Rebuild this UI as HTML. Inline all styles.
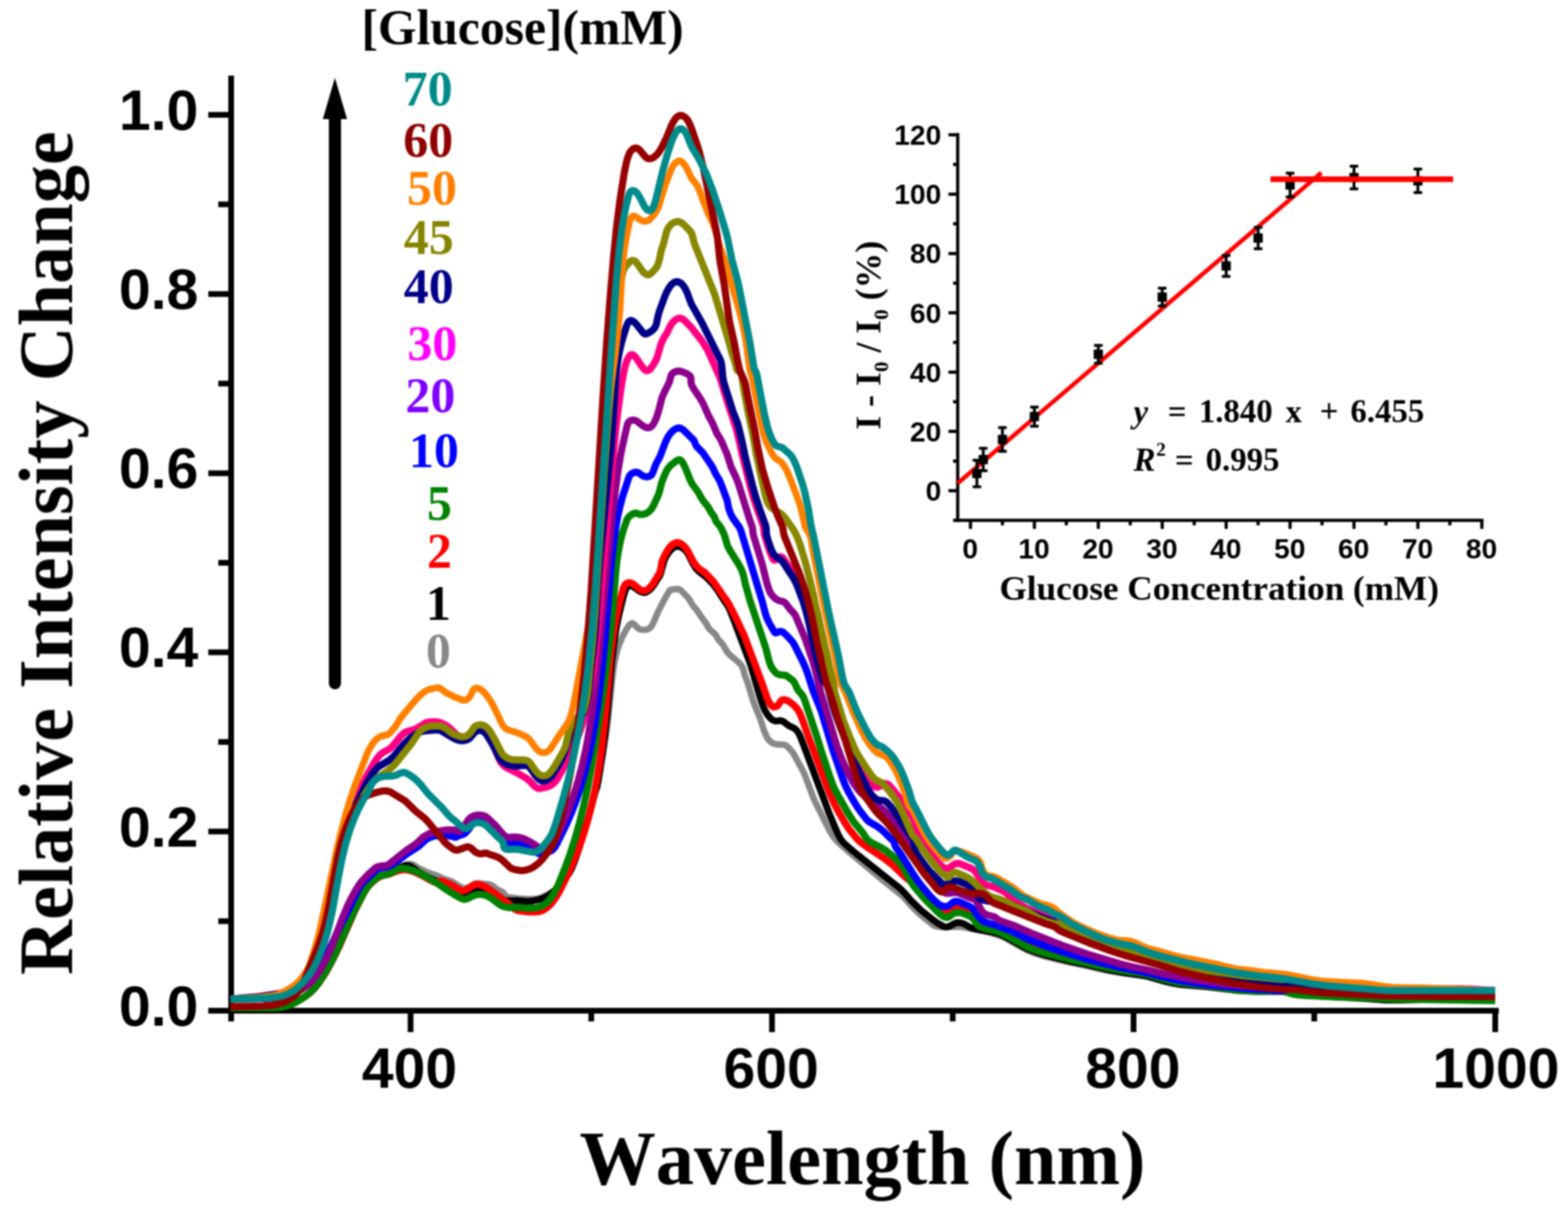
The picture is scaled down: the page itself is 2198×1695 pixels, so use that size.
<!DOCTYPE html>
<html lang="en"><head><meta charset="utf-8"><title>Relative Intensity Change vs Wavelength</title>
<style>html,body{margin:0;padding:0;background:#fff}body{width:2198px;height:1695px;overflow:hidden}svg{display:block}
.sans{font-family:"Liberation Sans",Arial,Helvetica,sans-serif;font-weight:bold}.serif{font-family:"Liberation Serif","Times New Roman",Times,serif;font-weight:bold}text{font-kerning:none}</style></head><body>
<svg xmlns="http://www.w3.org/2000/svg" width="2198" height="1695" viewBox="0 0 2198 1695">
<defs><filter id="soft" x="0" y="0" width="2198" height="1695" filterUnits="userSpaceOnUse" color-interpolation-filters="sRGB"><feGaussianBlur stdDeviation="1.0"/></filter></defs>
<rect width="2198" height="1695" fill="#fff"/>
<g filter="url(#soft)">
<!-- main axes -->
<g stroke="#000" stroke-width="8" fill="none" stroke-linecap="butt">
<path d="M324 106V1432"/>
<path d="M292 1417H2101"/>
<path d="M292 161H324M292 412.2H324M292 663.4H324M292 914.6H324M292 1165.8H324"/>
<path d="M306 286.6H324M306 537.8H324M306 789H324M306 1040.2H324M306 1291.4H324"/>
<path d="M575.5 1417V1447M1082.2 1417V1447M1589 1417V1447M2096 1417V1447"/>
<path d="M828.8 1417V1432M1335.5 1417V1432M1842.3 1417V1432"/>
</g>
<g class="sans" font-size="80" text-anchor="end" fill="#000">
<text x="278" y="182">1.0</text>
<text x="278" y="433">0.8</text>
<text x="278" y="684">0.6</text>
<text x="278" y="935">0.4</text>
<text x="278" y="1187">0.2</text>
<text x="278" y="1438">0.0</text>
</g>
<g class="sans" font-size="80" text-anchor="middle" fill="#000">
<text x="574" y="1525">400</text>
<text x="1081" y="1525">600</text>
<text x="1588" y="1525">800</text>
<text x="2097" y="1525">1000</text>
</g>
<text class="serif" font-size="107" text-anchor="middle" fill="#000" transform="translate(101 775.5) rotate(-90)">Relative Intensity Change</text>
<text class="serif" font-size="107" text-anchor="middle" fill="#000" x="1209" y="1660">Wavelength (nm)</text>

<g fill="none" stroke-linejoin="round" stroke-linecap="butt">
<path stroke="#888888" stroke-width="9" d="M323.3,1413.0 L377.3,1413.1 L390.3,1412.6 L397.2,1411.7 L405.0,1409.7 L412.3,1406.5 L423.5,1400.0 L433.3,1393.0 L439.8,1386.8 L446.7,1378.2 L453.4,1368.3 L461.0,1355.3 L467.0,1343.8 L473.6,1330.3 L498.0,1275.5 L509.7,1252.3 L514.5,1244.7 L517.6,1240.9 L521.9,1236.6 L526.5,1232.8 L530.6,1229.9 L535.9,1227.2 L547.1,1222.8 L559.3,1216.1 L568.7,1212.5 L571.5,1211.7 L574.5,1211.2 L576.4,1211.4 L578.3,1211.9 L587.6,1217.6 L596.6,1221.9 L603.1,1224.5 L612.7,1227.5 L622.6,1232.2 L632.1,1235.2 L645.7,1243.5 L649.3,1245.1 L652.3,1245.4 L656.1,1244.5 L658.8,1243.2 L664.5,1239.3 L667.3,1238.3 L670.2,1238.3 L676.1,1239.0 L683.1,1239.4 L687.0,1240.1 L690.5,1241.9 L695.9,1246.3 L703.9,1250.2 L705.4,1251.5 L708.3,1255.4 L709.7,1256.7 L711.4,1257.6 L714.3,1258.3 L725.2,1259.5 L739.2,1260.5 L748.2,1260.4 L755.1,1259.6 L759.8,1258.0 L770.5,1252.7 L777.2,1248.2 L784.1,1242.5 L789.4,1236.5 L798.1,1224.4 L801.4,1218.2 L806.3,1206.1 L812.4,1188.1 L827.6,1137.3 L834.4,1111.3 L837.3,1103.2 L839.2,1093.5 L845.4,1056.0 L849.8,1027.4 L853.2,1000.6 L858.5,948.8 L860.2,936.0 L861.9,926.1 L864.1,916.4 L866.2,908.7 L868.9,901.1 L872.9,892.0 L878.6,881.4 L882.0,876.5 L883.4,875.1 L884.9,874.1 L886.6,873.8 L888.2,874.5 L894.4,880.8 L896.0,881.9 L898.8,882.8 L902.8,883.1 L906.7,882.6 L909.4,881.5 L911.8,879.7 L913.7,877.4 L915.2,874.8 L922.2,858.3 L929.9,843.1 L937.7,829.2 L938.8,827.7 L940.3,826.8 L948.9,825.8 L951.8,826.1 L954.3,827.4 L964.0,837.5 L967.0,841.5 L970.8,848.4 L976.7,855.2 L983.9,866.0 L989.3,873.2 L993.7,881.0 L996.4,883.9 L1001.0,887.7 L1003.1,889.8 L1007.0,896.7 L1011.1,901.0 L1013.5,904.2 L1020.2,915.3 L1023.7,918.8 L1035.2,928.4 L1038.0,931.3 L1039.8,933.7 L1041.5,937.2 L1044.0,946.9 L1048.1,957.1 L1055.8,983.0 L1066.2,1009.0 L1070.9,1024.2 L1074.9,1033.4 L1077.1,1036.7 L1079.1,1039.0 L1081.4,1040.8 L1083.9,1042.3 L1088.7,1043.6 L1097.7,1043.9 L1099.6,1044.3 L1101.4,1045.0 L1103.8,1046.7 L1106.7,1049.5 L1111.8,1055.6 L1123.3,1076.6 L1127.8,1085.6 L1139.8,1117.4 L1142.5,1123.8 L1162.6,1164.1 L1165.6,1169.3 L1169.6,1175.0 L1172.2,1178.1 L1175.7,1181.6 L1193.0,1196.8 L1237.5,1234.0 L1264.0,1255.3 L1269.0,1260.2 L1276.8,1269.3 L1288.8,1281.3 L1306.7,1295.8 L1310.0,1298.0 L1313.8,1299.2 L1319.7,1299.7 L1343.7,1299.3 L1347.7,1299.6 L1363.5,1302.2 L1383.0,1306.4 L1395.6,1309.8 L1404.0,1312.8 L1411.2,1316.3 L1434.8,1329.5 L1441.0,1332.7 L1451.2,1336.8 L1465.6,1341.2 L1496.7,1348.7 L1524.1,1354.3 L1551.4,1360.6 L1571.1,1364.1 L1600.8,1368.2 L1607.7,1369.4 L1632.7,1376.4 L1643.4,1378.9 L1652.3,1380.4 L1694.2,1384.0 L1729.9,1388.4 L1742.8,1389.6 L1764.8,1390.5 L1776.8,1390.5 L1791.8,1390.1 L1797.8,1390.4 L1802.7,1391.2 L1813.2,1394.5 L1824.1,1395.8 L1911.0,1400.3 L1940.9,1402.3 L1958.9,1402.5 L1994.9,1401.6 L2095.9,1399.9"/>
<path stroke="#000000" stroke-width="9.5" d="M323.5,1413.0 L377.5,1413.1 L390.5,1412.6 L397.5,1411.7 L405.2,1409.7 L412.5,1406.5 L423.8,1400.0 L433.5,1393.0 L440.0,1386.8 L446.9,1378.2 L454.1,1367.4 L461.7,1354.4 L467.7,1342.9 L473.8,1330.3 L498.0,1275.4 L509.7,1252.2 L514.5,1244.6 L517.7,1240.7 L522.0,1236.5 L526.6,1232.7 L530.7,1229.9 L536.2,1227.4 L545.6,1224.2 L557.3,1218.4 L567.2,1213.9 L569.1,1213.3 L571.0,1213.3 L573.0,1213.7 L575.7,1214.7 L579.2,1216.8 L587.1,1222.8 L600.3,1230.0 L613.9,1236.3 L622.7,1241.1 L631.8,1245.1 L646.8,1253.1 L649.6,1253.7 L652.5,1253.2 L664.1,1247.5 L667.9,1246.2 L671.8,1245.6 L675.8,1245.8 L678.7,1246.6 L681.4,1247.8 L701.7,1260.6 L704.4,1261.7 L708.3,1262.6 L714.3,1262.9 L724.3,1262.5 L740.2,1263.9 L745.1,1263.3 L755.9,1261.2 L762.5,1258.8 L769.5,1254.9 L775.9,1250.1 L782.5,1244.0 L788.4,1237.2 L797.7,1224.3 L801.0,1218.1 L805.6,1207.0 L812.0,1188.1 L827.5,1136.3 L834.0,1111.3 L836.8,1103.1 L838.7,1093.5 L844.1,1058.9 L848.0,1030.2 L851.4,998.3 L857.3,930.6 L861.3,896.8 L864.1,879.0 L867.3,863.3 L873.4,838.1 L876.3,828.5 L877.4,825.7 L879.0,823.2 L881.2,821.5 L883.0,821.1 L884.9,821.3 L887.6,822.4 L896.5,828.8 L901.1,830.7 L904.0,830.8 L905.8,830.3 L910.0,827.6 L912.9,824.9 L916.0,821.0 L925.1,806.6 L926.5,802.9 L930.9,786.5 L932.9,781.9 L935.3,777.6 L938.9,772.7 L942.3,769.1 L945.6,767.0 L949.4,765.9 L952.3,766.3 L955.9,767.8 L959.2,770.1 L961.9,772.9 L964.7,777.1 L971.0,789.6 L975.1,796.4 L979.9,801.5 L987.1,806.8 L990.2,809.4 L999.2,818.7 L1005.8,827.5 L1014.4,841.0 L1020.1,849.2 L1023.2,855.5 L1028.0,867.5 L1051.9,931.2 L1065.9,979.2 L1069.2,988.7 L1071.9,995.2 L1074.3,999.5 L1077.1,1003.7 L1079.7,1006.7 L1082.8,1009.2 L1086.3,1010.8 L1088.2,1010.9 L1094.0,1010.2 L1095.9,1010.6 L1097.7,1011.4 L1106.5,1017.9 L1112.8,1020.7 L1114.5,1021.8 L1117.3,1024.6 L1119.5,1027.9 L1121.7,1032.4 L1125.0,1040.8 L1162.6,1141.0 L1174.3,1168.6 L1177.0,1174.0 L1179.1,1177.4 L1181.6,1180.5 L1185.1,1184.0 L1196.5,1193.9 L1261.5,1245.4 L1267.9,1251.8 L1277.0,1262.4 L1291.3,1276.4 L1310.1,1291.4 L1314.2,1294.2 L1320.3,1297.7 L1323.9,1299.3 L1325.8,1299.7 L1327.7,1299.6 L1331.5,1298.4 L1337.5,1295.0 L1340.2,1293.8 L1343.2,1293.5 L1347.1,1293.9 L1351.8,1295.5 L1359.6,1300.0 L1364.2,1301.8 L1370.1,1303.1 L1391.7,1306.9 L1401.4,1309.7 L1410.4,1313.8 L1434.9,1327.5 L1441.1,1330.7 L1451.3,1334.7 L1464.7,1338.9 L1501.6,1348.1 L1524.1,1352.6 L1553.3,1359.6 L1570.0,1362.7 L1600.7,1367.1 L1607.6,1368.3 L1634.5,1376.1 L1644.3,1378.4 L1653.1,1379.9 L1692.0,1383.2 L1728.7,1387.9 L1740.7,1389.0 L1763.6,1390.0 L1796.6,1389.9 L1802.6,1390.7 L1813.2,1393.6 L1823.1,1394.8 L1910.0,1399.4 L1942.9,1401.9 L1961.9,1402.1 L1994.9,1401.2 L2095.9,1399.5"/>
<path stroke="#ff0000" stroke-width="10" d="M323.8,1412.5 L378.8,1412.6 L390.8,1412.1 L398.7,1411.0 L406.4,1408.9 L414.5,1405.0 L425.7,1398.4 L435.3,1391.2 L441.6,1384.8 L448.3,1376.1 L455.5,1365.2 L462.9,1352.2 L474.5,1328.9 L497.0,1277.6 L511.5,1249.1 L516.8,1241.8 L523.2,1235.5 L529.5,1230.6 L532.1,1229.2 L535.8,1227.7 L545.5,1225.3 L553.9,1222.1 L559.6,1220.3 L564.5,1219.3 L568.5,1219.2 L576.3,1220.9 L585.6,1224.4 L592.8,1227.9 L603.2,1234.0 L608.6,1236.6 L610.5,1237.1 L612.4,1237.1 L617.7,1235.2 L620.4,1235.4 L630.6,1239.6 L642.7,1246.5 L645.4,1247.8 L648.2,1248.7 L650.1,1248.7 L652.9,1247.9 L662.2,1242.1 L665.8,1240.4 L669.7,1239.9 L673.6,1240.5 L676.4,1241.4 L680.0,1243.1 L692.5,1251.4 L713.1,1267.3 L721.4,1274.4 L724.0,1275.9 L727.8,1276.9 L736.8,1278.1 L741.7,1278.5 L749.7,1278.5 L755.7,1278.0 L759.5,1276.8 L763.1,1275.0 L767.1,1272.2 L771.6,1268.1 L774.8,1264.3 L778.3,1259.4 L785.0,1248.3 L797.2,1223.1 L805.2,1204.8 L812.4,1186.1 L818.8,1167.1 L824.7,1147.0 L830.0,1125.6 L834.1,1107.1 L837.7,1087.4 L840.9,1067.6 L843.9,1045.8 L848.5,1004.1 L855.4,925.4 L859.4,891.6 L862.2,874.8 L865.1,860.1 L870.6,836.7 L874.0,824.2 L875.7,820.6 L877.6,818.4 L880.1,817.1 L882.0,816.9 L884.8,817.5 L887.5,818.8 L895.9,825.8 L899.4,827.7 L902.2,828.3 L904.2,828.1 L906.9,827.0 L909.3,825.3 L912.1,822.5 L915.2,818.6 L924.6,803.3 L925.9,799.6 L927.5,789.7 L928.5,785.8 L931.3,779.4 L935.7,771.6 L939.2,766.7 L942.0,763.9 L946.3,761.4 L948.1,760.8 L950.0,760.7 L952.8,761.4 L955.4,762.9 L958.5,765.4 L961.3,768.3 L964.6,773.2 L971.3,786.6 L975.2,792.4 L980.0,797.5 L985.9,801.2 L988.2,803.1 L1000.1,815.2 L1014.1,835.9 L1018.9,842.3 L1021.5,846.6 L1032.0,867.1 L1043.0,890.6 L1061.0,938.4 L1069.6,961.8 L1075.4,978.9 L1077.4,983.5 L1079.4,986.9 L1081.4,989.1 L1082.9,990.3 L1084.7,991.0 L1087.5,990.8 L1089.2,990.0 L1090.6,988.7 L1093.9,983.7 L1095.8,981.7 L1097.5,981.0 L1100.4,981.0 L1104.9,982.9 L1111.4,987.5 L1116.4,992.4 L1119.9,997.3 L1122.0,1001.8 L1126.0,1012.1 L1133.9,1034.7 L1163.5,1113.4 L1168.9,1125.2 L1174.3,1135.9 L1184.7,1154.1 L1190.2,1162.5 L1200.4,1174.9 L1205.3,1179.9 L1214.0,1186.5 L1239.0,1203.2 L1252.3,1213.7 L1268.9,1229.7 L1284.2,1240.9 L1310.3,1267.1 L1315.6,1271.7 L1319.7,1274.5 L1323.3,1276.0 L1326.2,1276.2 L1329.0,1275.4 L1337.2,1271.8 L1341.1,1271.2 L1347.9,1272.6 L1355.5,1275.1 L1359.9,1277.3 L1363.6,1280.7 L1367.0,1285.6 L1370.6,1292.7 L1373.2,1297.0 L1375.1,1299.2 L1377.5,1301.0 L1382.2,1302.5 L1397.0,1304.4 L1402.7,1306.2 L1410.9,1310.1 L1440.6,1326.5 L1449.9,1330.3 L1461.3,1334.1 L1469.9,1336.6 L1500.0,1344.1 L1524.4,1349.4 L1549.7,1355.6 L1570.3,1359.5 L1601.0,1364.0 L1607.9,1365.3 L1636.7,1373.7 L1644.5,1375.6 L1651.3,1377.0 L1691.1,1381.0 L1726.8,1386.1 L1738.7,1387.5 L1750.7,1388.3 L1761.7,1388.8 L1796.7,1388.6 L1801.6,1389.3 L1811.1,1392.3 L1818.0,1393.6 L1828.0,1394.4 L1861.9,1396.3 L1882.9,1397.1 L1913.9,1397.9 L1945.9,1399.5 L1972.9,1400.1 L2034.9,1400.4 L2095.9,1399.5"/>
<path stroke="#008200" stroke-width="10" d="M323.0,1413.0 L377.0,1413.1 L390.0,1412.6 L396.9,1411.7 L404.7,1409.7 L412.0,1406.5 L423.2,1400.0 L433.0,1393.0 L439.5,1386.8 L446.4,1378.2 L453.6,1367.5 L460.7,1355.4 L466.7,1343.8 L472.8,1331.2 L490.8,1290.0 L497.5,1275.5 L508.6,1254.2 L514.6,1243.8 L517.1,1240.7 L521.4,1236.5 L526.6,1231.9 L529.9,1229.7 L535.4,1227.3 L544.2,1225.3 L547.9,1223.9 L558.4,1218.2 L561.3,1217.5 L564.2,1217.4 L571.2,1218.1 L578.9,1220.2 L587.2,1223.7 L596.0,1228.3 L611.5,1237.5 L625.5,1247.1 L638.2,1255.1 L646.1,1259.4 L649.8,1260.7 L651.7,1260.8 L654.6,1260.2 L661.7,1256.6 L667.3,1254.5 L671.2,1253.9 L676.2,1254.1 L681.0,1255.3 L685.5,1257.4 L688.9,1259.5 L700.9,1268.5 L704.4,1270.4 L707.2,1271.4 L713.1,1272.4 L726.1,1272.1 L741.0,1273.4 L752.0,1272.7 L757.7,1271.1 L761.3,1269.3 L764.6,1267.1 L767.6,1264.4 L770.2,1261.5 L773.2,1257.5 L776.5,1252.4 L782.3,1240.8 L792.5,1215.8 L799.6,1196.1 L806.3,1175.1 L812.5,1153.0 L818.2,1129.7 L823.4,1105.2 L828.6,1077.7 L834.1,1045.1 L841.1,1000.7 L847.1,959.1 L852.3,919.5 L856.4,882.7 L859.3,851.8 L862.9,805.0 L864.6,788.1 L866.3,776.2 L868.2,765.4 L870.6,754.6 L873.2,745.0 L878.7,728.9 L880.7,725.5 L883.5,722.7 L887.7,720.1 L890.5,719.3 L892.3,719.5 L896.0,720.9 L897.9,721.3 L900.8,721.2 L903.7,720.6 L906.5,719.5 L909.0,717.9 L913.2,713.6 L915.7,709.4 L922.5,694.9 L924.4,689.2 L927.5,676.6 L931.9,665.4 L934.4,660.0 L937.1,655.8 L940.4,652.1 L948.3,646.0 L950.1,645.1 L951.8,644.6 L952.7,644.6 L954.3,645.3 L956.9,648.2 L961.2,657.2 L967.1,672.1 L970.2,678.4 L978.4,689.6 L984.8,700.9 L992.9,711.1 L996.7,718.1 L1001.3,724.5 L1003.7,730.9 L1008.7,737.1 L1011.4,741.3 L1015.2,749.4 L1019.4,763.8 L1020.9,767.5 L1024.4,773.6 L1035.1,790.5 L1039.3,798.4 L1041.7,805.0 L1045.0,819.6 L1051.5,842.7 L1073.3,908.2 L1078.6,928.5 L1080.8,934.1 L1082.8,937.5 L1085.2,940.7 L1087.2,942.9 L1089.6,944.7 L1093.2,946.1 L1100.1,946.7 L1102.0,947.2 L1104.4,948.8 L1111.5,954.2 L1113.9,957.4 L1117.2,964.7 L1118.6,967.2 L1124.4,974.2 L1126.4,977.6 L1128.2,982.2 L1145.6,1034.4 L1151.8,1054.5 L1162.5,1086.7 L1166.9,1099.0 L1169.6,1105.4 L1173.7,1113.4 L1189.1,1140.4 L1196.6,1152.1 L1209.4,1167.5 L1214.9,1175.8 L1216.9,1178.0 L1221.8,1181.5 L1236.0,1188.8 L1241.1,1191.9 L1253.6,1202.0 L1260.0,1208.2 L1263.9,1212.8 L1267.8,1218.6 L1277.1,1236.3 L1279.7,1240.6 L1282.1,1243.8 L1295.7,1259.7 L1314.1,1278.1 L1320.9,1284.0 L1324.4,1285.8 L1326.3,1286.2 L1328.2,1286.2 L1330.7,1285.0 L1335.6,1281.5 L1339.2,1279.8 L1343.1,1279.2 L1348.0,1279.9 L1359.1,1284.2 L1362.5,1286.3 L1365.9,1289.9 L1370.1,1296.6 L1373.1,1299.0 L1377.8,1300.9 L1394.3,1304.8 L1401.8,1307.4 L1412.6,1312.6 L1438.9,1327.1 L1446.2,1330.4 L1454.7,1333.4 L1467.2,1337.0 L1499.2,1345.0 L1524.6,1350.3 L1550.9,1356.6 L1569.5,1360.2 L1600.2,1364.5 L1608.1,1365.9 L1636.9,1374.4 L1650.5,1377.4 L1690.3,1381.4 L1727.9,1387.1 L1741.8,1388.6 L1762.8,1389.6 L1775.8,1389.7 L1791.8,1389.3 L1797.8,1389.5 L1802.7,1390.4 L1810.3,1392.9 L1814.2,1393.8 L1821.1,1394.7 L1830.1,1395.4 L1873.0,1397.6 L1913.0,1398.7 L1949.9,1400.5 L2095.9,1402.9"/>
<path stroke="#0000ff" stroke-width="10" d="M323.0,1401.0 L347.0,1400.6 L372.0,1399.7 L384.9,1398.5 L396.8,1396.6 L406.5,1394.2 L413.9,1391.2 L422.5,1386.2 L431.3,1379.6 L436.6,1375.0 L440.6,1370.5 L444.6,1364.8 L449.2,1357.0 L454.1,1347.2 L474.5,1303.7 L491.5,1269.7 L501.4,1248.9 L504.3,1243.7 L508.5,1238.1 L522.5,1223.9 L528.0,1219.5 L532.4,1217.3 L543.2,1215.2 L546.0,1214.3 L548.6,1212.9 L557.8,1206.8 L570.5,1197.1 L585.6,1187.4 L588.7,1184.9 L595.1,1178.6 L598.4,1176.3 L601.9,1174.4 L605.6,1173.0 L609.5,1172.0 L618.5,1171.2 L627.5,1171.6 L631.4,1172.2 L637.2,1173.7 L639.9,1173.5 L644.0,1171.2 L649.6,1169.6 L652.1,1168.0 L656.8,1162.9 L661.8,1155.4 L663.9,1153.4 L665.6,1152.4 L668.4,1151.5 L673.4,1151.3 L676.3,1151.7 L679.1,1152.6 L683.4,1155.2 L687.1,1158.5 L695.6,1167.0 L704.0,1176.9 L707.0,1179.5 L709.6,1180.9 L713.5,1181.8 L723.4,1182.3 L734.1,1185.1 L741.3,1188.4 L754.1,1196.3 L756.8,1197.3 L760.7,1197.1 L769.2,1194.4 L773.6,1192.1 L777.2,1188.7 L780.3,1183.5 L794.4,1154.8 L801.6,1138.3 L808.0,1121.5 L813.4,1105.4 L819.5,1084.2 L824.6,1063.9 L829.1,1042.3 L832.8,1021.7 L836.6,997.9 L840.1,972.2 L843.3,945.4 L848.6,891.6 L857.4,787.0 L860.4,760.1 L863.1,740.3 L865.6,725.5 L869.1,709.9 L873.0,695.4 L881.7,668.8 L883.1,666.2 L885.1,664.2 L886.8,663.2 L889.6,662.3 L891.6,662.0 L893.5,662.2 L895.2,663.0 L901.7,667.5 L905.5,668.5 L908.4,668.3 L910.3,667.7 L912.0,666.8 L913.4,665.5 L915.3,662.1 L917.6,655.5 L919.9,649.9 L925.1,640.2 L932.8,619.7 L936.3,612.5 L939.7,607.6 L943.9,603.2 L948.1,600.7 L951.9,600.0 L954.7,600.6 L958.0,602.8 L972.2,616.9 L973.2,618.5 L975.4,624.0 L976.4,625.7 L985.4,635.0 L997.7,653.3 L999.7,656.7 L1002.9,664.0 L1008.6,673.4 L1012.0,681.7 L1019.3,701.4 L1021.6,713.1 L1024.3,720.7 L1027.5,726.8 L1036.3,739.0 L1038.4,743.5 L1068.7,844.0 L1072.7,859.6 L1074.9,866.2 L1078.3,873.4 L1085.6,886.3 L1087.0,887.2 L1087.7,887.3 L1092.9,885.3 L1094.8,885.3 L1096.6,885.8 L1098.2,886.8 L1100.5,888.8 L1105.5,893.7 L1109.5,898.2 L1111.9,901.3 L1113.9,904.8 L1125.5,928.1 L1129.1,936.3 L1131.9,943.8 L1139.8,968.6 L1151.3,997.4 L1167.9,1052.9 L1181.6,1092.7 L1185.3,1101.9 L1189.2,1110.0 L1198.2,1125.7 L1202.4,1132.4 L1206.5,1138.1 L1215.1,1149.1 L1218.9,1152.4 L1229.2,1158.4 L1234.9,1162.5 L1239.4,1166.5 L1247.2,1174.3 L1252.9,1179.6 L1253.7,1181.3 L1254.5,1185.1 L1255.7,1187.8 L1262.7,1197.5 L1280.7,1226.3 L1286.2,1234.6 L1291.7,1241.8 L1303.9,1256.4 L1310.2,1262.8 L1316.2,1268.0 L1318.8,1269.5 L1320.7,1270.2 L1323.6,1270.7 L1326.5,1270.7 L1329.4,1270.1 L1331.2,1269.2 L1335.5,1265.2 L1337.1,1264.2 L1339.9,1263.6 L1343.8,1264.2 L1356.7,1269.5 L1362.8,1272.9 L1365.5,1275.8 L1369.8,1282.5 L1373.4,1287.3 L1376.3,1290.1 L1380.5,1292.7 L1384.2,1294.1 L1391.0,1295.6 L1395.8,1297.0 L1414.6,1304.0 L1422.8,1307.6 L1437.1,1314.9 L1444.3,1318.2 L1470.5,1328.3 L1488.5,1334.3 L1520.1,1343.8 L1530.7,1346.6 L1565.7,1355.3 L1606.9,1363.6 L1643.7,1372.9 L1655.5,1375.2 L1687.1,1379.9 L1697.1,1381.1 L1750.8,1386.4 L1775.8,1387.8 L1791.7,1389.1 L1796.7,1389.0 L1800.7,1388.4 L1803.5,1387.4 L1810.5,1383.8 L1813.4,1383.0 L1817.4,1382.8 L1825.3,1383.5 L1844.1,1386.8 L1856.0,1387.9 L1891.9,1390.3 L1926.9,1391.7 L1955.9,1392.0 L2043.9,1390.4 L2095.9,1391.2"/>
<path stroke="#8c008c" stroke-width="10" d="M323.0,1401.0 L373.0,1399.8 L385.0,1398.8 L396.8,1397.1 L406.5,1394.8 L414.0,1391.9 L423.6,1386.5 L431.8,1380.8 L437.5,1375.2 L443.8,1367.4 L449.3,1359.1 L455.5,1347.7 L460.4,1337.8 L464.4,1328.7 L479.5,1288.4 L486.8,1270.8 L491.6,1261.0 L498.3,1248.6 L502.5,1241.8 L506.6,1236.2 L516.1,1225.9 L525.7,1217.2 L528.3,1215.7 L530.1,1215.0 L533.0,1214.3 L540.9,1213.5 L542.8,1212.9 L545.4,1211.5 L569.7,1192.2 L581.3,1184.5 L585.1,1181.3 L593.1,1173.7 L600.0,1169.7 L604.6,1167.7 L608.4,1166.6 L620.2,1164.3 L626.1,1163.6 L632.1,1163.4 L637.1,1163.7 L638.9,1164.1 L642.1,1165.9 L643.7,1166.0 L645.2,1165.2 L647.9,1162.3 L650.9,1158.3 L656.1,1149.8 L659.6,1146.3 L662.1,1144.7 L664.8,1143.6 L668.7,1142.8 L672.7,1142.7 L675.7,1143.1 L678.5,1143.8 L681.2,1145.1 L683.6,1146.9 L695.8,1158.7 L705.5,1170.2 L707.8,1172.1 L709.5,1173.0 L711.4,1173.6 L714.3,1174.0 L721.3,1173.5 L725.2,1173.7 L729.2,1174.4 L733.0,1175.4 L737.7,1177.3 L744.7,1181.1 L757.2,1189.4 L759.8,1190.7 L762.7,1191.3 L765.6,1191.2 L768.3,1190.0 L771.2,1187.4 L775.6,1182.0 L778.4,1177.8 L781.2,1172.5 L789.7,1153.3 L797.6,1133.8 L804.5,1114.0 L810.4,1094.9 L815.8,1074.6 L820.6,1053.1 L824.8,1031.5 L830.2,996.9 L835.5,953.3 L841.2,898.5 L853.8,767.1 L858.4,723.4 L862.7,686.6 L866.1,661.8 L869.4,641.1 L872.7,624.4 L878.7,598.1 L880.2,593.3 L881.8,590.9 L884.2,589.4 L887.0,588.9 L889.9,589.2 L892.6,590.4 L901.3,597.1 L905.6,599.4 L908.5,599.7 L910.4,599.4 L912.2,598.6 L914.4,596.7 L917.1,592.6 L920.3,585.2 L923.6,574.8 L928.0,557.3 L931.2,550.0 L938.3,535.7 L940.8,526.1 L942.4,523.7 L944.8,521.9 L948.5,520.5 L951.4,520.2 L955.3,520.8 L961.8,523.3 L966.0,525.9 L967.9,528.1 L968.6,530.9 L968.7,536.8 L969.9,540.5 L972.9,545.7 L981.8,559.0 L985.8,565.9 L993.0,582.4 L999.1,593.9 L1004.5,606.8 L1010.7,617.0 L1017.8,633.6 L1020.2,640.1 L1024.7,654.5 L1031.1,668.0 L1034.5,676.3 L1050.9,728.8 L1054.3,738.2 L1054.9,741.1 L1055.7,748.1 L1056.6,752.0 L1068.2,790.3 L1075.5,819.4 L1077.7,826.0 L1079.2,829.7 L1081.2,833.1 L1083.0,835.5 L1087.4,839.6 L1091.7,842.0 L1098.4,843.7 L1100.8,845.2 L1107.4,854.0 L1113.5,860.5 L1115.9,864.8 L1129.0,896.3 L1139.3,926.6 L1143.1,940.0 L1150.2,970.2 L1173.4,1046.8 L1180.8,1066.4 L1188.7,1083.7 L1193.4,1092.5 L1197.5,1099.4 L1202.1,1105.9 L1206.0,1110.5 L1212.6,1116.7 L1218.7,1121.8 L1236.9,1134.1 L1240.5,1137.6 L1244.5,1142.1 L1263.8,1166.3 L1269.1,1173.6 L1271.6,1179.0 L1273.9,1188.7 L1275.1,1192.5 L1276.8,1196.1 L1279.6,1200.3 L1298.2,1223.8 L1306.5,1233.8 L1314.5,1242.8 L1322.4,1250.3 L1324.9,1251.9 L1327.8,1252.5 L1330.7,1252.4 L1337.6,1251.2 L1341.5,1251.4 L1345.3,1252.7 L1354.4,1256.8 L1364.8,1260.4 L1367.3,1261.9 L1369.4,1264.0 L1370.8,1266.6 L1373.2,1272.1 L1375.2,1275.5 L1378.2,1279.4 L1381.4,1281.8 L1385.1,1283.2 L1392.9,1285.0 L1395.5,1286.4 L1400.2,1290.0 L1402.9,1291.3 L1420.9,1297.4 L1444.7,1307.9 L1488.4,1325.2 L1526.2,1338.3 L1570.3,1351.4 L1586.8,1355.4 L1608.4,1359.8 L1629.7,1365.1 L1668.0,1372.7 L1711.5,1379.3 L1751.3,1383.3 L1774.3,1384.6 L1797.2,1386.5 L1815.2,1386.4 L1849.0,1389.7 L1908.9,1392.7 L1934.9,1393.6 L1955.9,1393.7 L1997.9,1392.8 L2045.9,1391.2 L2095.9,1391.2"/>
<path stroke="#ff0082" stroke-width="10" d="M323.0,1400.8 L363.8,1396.9 L388.5,1393.3 L396.3,1391.5 L401.1,1389.9 L405.6,1387.8 L414.2,1382.8 L421.1,1377.0 L424.5,1373.3 L426.9,1370.1 L430.2,1364.0 L433.6,1355.6 L447.9,1311.9 L451.4,1297.3 L468.3,1217.1 L474.1,1192.8 L479.1,1174.5 L483.8,1159.2 L489.4,1143.1 L495.6,1127.3 L501.2,1114.4 L513.8,1088.3 L523.0,1071.7 L527.9,1064.2 L531.6,1059.5 L534.5,1056.7 L537.8,1054.5 L545.7,1050.1 L548.9,1047.7 L551.6,1044.8 L560.9,1033.1 L564.4,1029.5 L567.5,1027.0 L571.0,1025.3 L577.8,1023.7 L582.5,1021.9 L586.9,1019.6 L597.1,1013.3 L599.9,1012.4 L603.9,1012.0 L609.9,1011.9 L612.8,1012.1 L617.7,1013.4 L622.3,1015.3 L625.7,1017.3 L629.8,1020.2 L637.7,1027.8 L641.5,1031.0 L645.0,1032.9 L647.9,1033.7 L651.8,1033.8 L653.7,1033.3 L656.4,1032.1 L659.6,1029.8 L666.1,1023.6 L668.5,1022.0 L671.3,1021.3 L674.2,1021.8 L676.8,1023.1 L679.8,1025.7 L682.3,1028.8 L685.1,1032.9 L688.1,1038.2 L691.6,1045.3 L700.3,1065.5 L702.3,1069.0 L704.8,1072.1 L707.0,1074.1 L710.3,1076.4 L725.5,1084.0 L737.6,1091.0 L741.5,1094.0 L749.1,1102.0 L751.4,1103.9 L754.0,1105.2 L756.9,1105.4 L764.7,1103.9 L768.5,1102.8 L772.1,1101.1 L775.4,1098.9 L778.2,1096.0 L781.1,1091.9 L786.7,1082.5 L798.9,1058.4 L806.0,1043.0 L811.9,1028.1 L816.7,1013.9 L821.0,998.5 L825.4,979.0 L828.7,961.3 L833.2,928.6 L839.1,871.9 L845.1,805.2 L857.9,655.7 L862.8,605.9 L866.2,576.1 L870.4,545.4 L873.4,526.7 L876.4,513.0 L878.5,506.4 L881.1,500.9 L883.5,497.9 L885.1,497.1 L885.9,497.0 L888.3,498.0 L891.1,500.9 L900.0,514.1 L903.8,518.6 L905.5,519.5 L907.3,519.7 L909.1,519.2 L911.5,517.5 L915.6,511.9 L919.5,505.0 L921.7,499.4 L925.8,484.9 L927.8,479.3 L930.4,473.9 L935.2,466.3 L939.4,457.3 L942.7,452.3 L946.1,448.7 L949.5,446.7 L952.3,446.0 L954.2,446.2 L956.0,446.8 L958.5,448.5 L961.4,451.2 L969.1,459.1 L982.8,476.3 L990.3,488.1 L992.7,492.4 L1009.0,529.0 L1011.3,535.6 L1015.4,550.0 L1023.3,574.8 L1031.5,599.4 L1034.3,610.1 L1041.1,640.3 L1052.9,686.9 L1055.7,696.4 L1062.0,715.4 L1069.5,736.1 L1070.4,740.0 L1071.3,747.9 L1072.2,751.8 L1078.6,771.8 L1082.7,782.0 L1083.6,783.7 L1084.8,785.0 L1085.5,785.3 L1087.0,785.1 L1091.6,781.5 L1093.2,780.7 L1094.9,780.6 L1097.2,782.0 L1111.8,802.2 L1115.9,809.1 L1118.9,815.4 L1126.9,836.9 L1130.8,849.4 L1136.1,870.7 L1138.4,882.5 L1141.4,895.1 L1146.4,920.6 L1148.7,929.3 L1153.9,946.6 L1156.1,952.1 L1160.0,959.1 L1161.6,962.8 L1167.5,981.9 L1172.6,997.0 L1187.7,1035.1 L1190.9,1042.5 L1211.1,1082.7 L1216.3,1091.2 L1222.8,1100.1 L1225.0,1102.0 L1226.7,1103.0 L1228.6,1103.6 L1230.5,1103.7 L1233.1,1102.7 L1236.7,1099.4 L1238.4,1098.6 L1240.2,1098.3 L1243.0,1098.8 L1245.6,1100.3 L1247.7,1102.4 L1253.6,1109.2 L1259.7,1117.1 L1266.1,1126.0 L1273.6,1137.9 L1279.5,1145.9 L1281.6,1151.5 L1284.9,1166.1 L1286.4,1169.8 L1288.3,1173.3 L1307.4,1200.2 L1314.5,1208.6 L1320.1,1214.3 L1324.2,1217.1 L1326.0,1217.7 L1327.9,1217.7 L1330.6,1216.6 L1337.1,1212.0 L1339.7,1210.8 L1343.6,1210.5 L1347.4,1211.6 L1361.3,1217.3 L1365.5,1219.9 L1368.0,1223.0 L1375.4,1234.8 L1378.0,1237.8 L1380.4,1239.6 L1384.0,1241.3 L1389.8,1242.6 L1392.6,1243.5 L1402.8,1247.7 L1407.3,1250.0 L1411.3,1252.8 L1418.5,1259.8 L1423.9,1264.2 L1436.6,1272.1 L1441.1,1274.4 L1455.0,1279.9 L1477.8,1287.2 L1479.6,1288.1 L1485.2,1292.1 L1491.6,1295.0 L1525.9,1308.8 L1559.7,1321.1 L1568.3,1323.8 L1587.7,1328.7 L1608.5,1335.9 L1625.7,1341.1 L1639.2,1344.7 L1664.5,1350.7 L1693.0,1356.4 L1737.4,1363.8 L1773.1,1368.4 L1801.9,1371.3 L1849.4,1378.3 L1925.1,1385.6 L1943.0,1386.9 L1961.0,1387.3 L2047.0,1386.3 L2063.0,1386.8 L2095.9,1388.7"/>
<path stroke="#000086" stroke-width="10" d="M323.0,1400.8 L363.9,1397.5 L386.7,1394.5 L395.5,1392.8 L403.9,1389.6 L409.3,1386.9 L413.5,1384.3 L417.5,1381.3 L421.2,1377.9 L424.5,1374.2 L426.9,1371.0 L430.4,1365.0 L434.0,1356.7 L449.1,1311.2 L451.9,1300.5 L456.6,1280.0 L470.5,1215.5 L476.2,1192.2 L481.1,1174.9 L485.7,1160.6 L491.2,1145.6 L497.0,1131.8 L512.7,1100.5 L520.9,1086.7 L526.2,1079.4 L528.8,1076.5 L531.1,1074.6 L543.1,1067.4 L550.3,1062.0 L553.7,1058.4 L567.2,1042.3 L572.9,1036.7 L579.1,1031.7 L585.9,1027.5 L591.5,1025.4 L597.4,1024.4 L608.4,1023.4 L613.4,1023.3 L616.3,1023.8 L619.0,1025.0 L634.5,1034.2 L639.8,1036.9 L644.6,1038.3 L648.5,1038.5 L652.5,1037.9 L656.2,1036.5 L659.3,1034.1 L663.7,1028.7 L666.6,1026.0 L670.0,1024.2 L672.0,1023.9 L673.9,1024.0 L675.8,1024.6 L678.3,1026.0 L680.5,1028.0 L682.4,1030.3 L691.2,1044.9 L700.7,1063.6 L704.6,1068.0 L708.8,1070.7 L714.4,1072.7 L719.3,1073.8 L723.3,1073.9 L735.2,1073.0 L738.2,1073.3 L740.0,1074.0 L741.6,1075.1 L743.0,1076.5 L750.4,1087.1 L753.6,1090.9 L756.6,1093.5 L758.4,1094.4 L760.3,1094.8 L762.2,1094.9 L765.1,1094.3 L767.8,1093.1 L770.2,1091.3 L772.8,1088.4 L781.1,1075.9 L786.6,1066.3 L790.2,1058.1 L793.2,1049.6 L800.7,1024.7 L803.7,1017.3 L807.8,1010.4 L809.7,1008.2 L816.2,1002.0 L818.0,999.6 L819.3,997.0 L822.1,988.4 L825.2,972.7 L826.4,962.8 L828.0,939.9 L831.9,909.2 L833.8,890.3 L835.4,868.3 L838.2,820.4 L841.4,780.5 L856.4,629.3 L859.1,593.4 L863.3,527.5 L864.6,515.6 L866.2,504.7 L868.1,493.9 L870.5,483.1 L873.2,473.5 L878.2,457.2 L880.6,451.8 L882.6,449.8 L884.3,449.3 L886.1,449.6 L889.3,451.8 L892.1,454.7 L900.7,465.6 L902.1,467.0 L903.6,468.1 L905.3,468.3 L907.9,467.3 L913.1,464.3 L916.1,461.7 L918.4,458.5 L920.0,454.8 L922.4,443.1 L924.6,435.4 L931.5,416.6 L934.6,409.3 L938.0,403.2 L941.0,399.2 L944.8,396.1 L946.6,395.3 L948.5,395.0 L951.4,395.3 L954.8,397.2 L957.5,400.1 L960.8,405.1 L963.3,410.5 L968.8,425.6 L983.6,451.7 L1010.2,505.4 L1011.7,511.2 L1013.1,528.1 L1014.6,536.0 L1027.5,577.0 L1033.4,591.9 L1034.9,596.6 L1040.2,619.0 L1044.7,640.5 L1054.7,680.3 L1059.6,697.6 L1066.3,717.5 L1073.4,737.3 L1074.1,741.2 L1074.4,749.1 L1076.8,757.8 L1081.0,770.1 L1083.6,775.5 L1086.0,778.7 L1088.1,780.8 L1094.7,785.1 L1097.4,788.0 L1112.2,810.5 L1115.1,815.8 L1117.9,822.2 L1125.6,842.8 L1129.4,855.3 L1134.5,875.6 L1136.8,887.4 L1139.6,899.1 L1142.6,913.8 L1146.7,930.3 L1152.7,950.4 L1154.4,954.0 L1158.5,959.6 L1160.3,963.1 L1161.8,967.9 L1164.4,978.6 L1167.0,988.2 L1171.6,1002.5 L1179.4,1023.1 L1186.1,1038.7 L1199.2,1071.1 L1203.4,1080.2 L1213.3,1099.9 L1217.6,1107.8 L1221.4,1113.6 L1224.6,1117.4 L1228.6,1120.5 L1232.1,1122.1 L1238.0,1122.5 L1240.8,1123.3 L1244.0,1125.6 L1248.0,1130.0 L1252.7,1136.5 L1272.7,1166.4 L1279.2,1175.3 L1280.8,1179.9 L1281.8,1187.8 L1282.6,1191.7 L1284.2,1195.4 L1286.3,1198.8 L1294.9,1211.1 L1301.7,1219.7 L1306.4,1224.8 L1320.0,1238.2 L1322.3,1239.9 L1325.0,1240.4 L1326.8,1239.8 L1332.9,1236.6 L1336.6,1235.1 L1340.5,1234.9 L1345.3,1236.2 L1354.5,1239.9 L1358.9,1242.4 L1364.7,1246.3 L1366.8,1248.4 L1367.8,1250.0 L1371.7,1258.1 L1373.7,1260.1 L1376.4,1261.4 L1383.2,1263.0 L1409.9,1266.5 L1418.6,1268.7 L1424.3,1270.8 L1459.2,1285.9 L1477.0,1292.2 L1479.5,1293.8 L1484.1,1298.8 L1488.6,1301.0 L1502.8,1305.8 L1525.3,1314.1 L1559.2,1326.1 L1569.7,1329.5 L1606.1,1340.4 L1650.0,1354.2 L1672.2,1360.1 L1694.6,1365.1 L1730.1,1371.7 L1754.8,1375.4 L1773.6,1377.6 L1799.5,1380.1 L1841.2,1385.7 L1865.1,1387.7 L1931.9,1391.9 L1950.9,1392.7 L2095.9,1392.9"/>
<path stroke="#878700" stroke-width="10" d="M323.0,1400.8 L351.0,1399.2 L368.9,1397.7 L386.8,1395.5 L395.6,1393.8 L404.0,1390.6 L409.3,1387.9 L413.6,1385.3 L420.5,1379.6 L424.0,1375.9 L426.4,1372.8 L430.0,1366.8 L434.5,1356.8 L448.8,1317.3 L451.9,1307.8 L460.1,1277.9 L475.8,1211.7 L482.2,1187.5 L487.2,1170.3 L492.2,1155.0 L497.3,1140.9 L501.6,1130.8 L505.7,1122.8 L511.4,1113.4 L517.9,1103.3 L523.3,1096.1 L528.9,1090.5 L543.1,1081.1 L548.5,1076.7 L552.8,1072.5 L576.0,1043.7 L587.1,1027.1 L589.1,1024.9 L591.4,1023.0 L596.6,1020.0 L602.3,1018.2 L610.3,1017.6 L616.2,1017.9 L620.1,1018.9 L622.8,1020.1 L632.4,1027.3 L635.8,1029.2 L645.2,1032.7 L649.1,1033.1 L652.9,1032.2 L654.7,1031.3 L657.2,1029.6 L660.5,1026.0 L664.8,1019.3 L667.1,1017.6 L669.8,1016.6 L672.8,1016.1 L675.7,1016.3 L677.6,1016.8 L680.2,1018.2 L682.5,1020.1 L685.2,1023.0 L687.6,1026.3 L693.1,1035.7 L702.1,1053.6 L704.9,1057.7 L707.7,1060.6 L711.9,1063.2 L717.6,1065.0 L722.5,1065.5 L734.5,1065.5 L737.5,1065.9 L740.2,1066.9 L743.1,1069.5 L749.9,1079.4 L753.1,1083.2 L756.0,1085.9 L759.5,1087.6 L762.4,1087.8 L765.3,1087.3 L768.0,1086.0 L771.0,1083.4 L776.3,1076.2 L786.0,1059.8 L790.7,1051.0 L793.0,1045.5 L797.9,1024.1 L799.1,1020.3 L800.8,1016.7 L802.8,1013.3 L806.0,1009.4 L809.6,1005.9 L815.6,1000.8 L818.1,996.5 L819.7,991.8 L821.4,985.0 L824.2,969.3 L826.5,939.4 L830.7,899.6 L834.1,858.8 L846.7,666.2 L853.8,571.4 L858.5,517.7 L866.1,439.0 L868.7,407.1 L869.9,397.2 L872.0,386.5 L874.1,378.8 L876.4,374.3 L882.2,367.5 L884.6,365.7 L886.3,365.1 L889.0,365.4 L891.3,367.1 L893.8,370.2 L899.9,379.3 L902.6,382.3 L905.7,384.6 L908.4,385.3 L910.2,384.9 L911.8,383.9 L914.8,381.2 L919.5,376.0 L921.1,373.5 L922.6,369.8 L924.5,363.1 L926.9,351.4 L930.6,339.9 L933.9,326.3 L935.6,321.7 L938.2,317.4 L941.7,313.8 L945.9,311.3 L949.7,310.6 L951.7,310.8 L953.5,311.4 L956.1,312.9 L958.4,314.7 L966.8,323.3 L968.6,325.7 L970.0,328.3 L972.6,338.9 L974.2,343.7 L1001.7,412.4 L1021.9,479.4 L1025.9,494.9 L1030.7,509.1 L1032.7,517.8 L1033.6,519.3 L1036.7,521.3 L1038.1,522.5 L1039.3,525.1 L1040.1,529.0 L1042.3,543.8 L1049.0,579.2 L1056.0,612.5 L1059.9,635.1 L1071.9,690.8 L1075.5,703.3 L1077.7,707.8 L1080.9,711.6 L1085.7,715.2 L1094.4,719.9 L1098.1,723.2 L1101.4,727.0 L1111.1,741.0 L1114.2,746.1 L1117.6,753.3 L1121.5,763.6 L1130.1,792.3 L1140.0,832.1 L1143.4,848.7 L1147.0,863.3 L1149.8,877.0 L1153.4,891.6 L1156.2,905.3 L1159.8,919.9 L1162.8,934.6 L1168.3,956.9 L1169.0,960.8 L1169.7,967.8 L1170.5,971.7 L1182.4,1010.9 L1192.4,1036.0 L1197.9,1048.9 L1201.9,1056.9 L1206.6,1064.6 L1220.4,1085.4 L1224.1,1090.1 L1227.0,1092.9 L1229.5,1094.4 L1234.9,1096.8 L1238.0,1099.3 L1242.7,1104.5 L1253.2,1117.9 L1258.6,1126.3 L1265.3,1139.7 L1278.6,1169.9 L1279.7,1171.5 L1284.5,1176.4 L1290.7,1186.6 L1303.5,1204.5 L1315.5,1219.2 L1318.9,1222.9 L1326.7,1229.1 L1329.1,1230.1 L1329.8,1230.0 L1331.0,1229.0 L1333.0,1225.7 L1334.3,1224.3 L1335.9,1223.5 L1337.8,1223.2 L1339.8,1223.4 L1342.6,1224.2 L1353.7,1228.8 L1358.9,1231.7 L1362.9,1234.7 L1379.4,1250.7 L1383.3,1253.8 L1386.7,1256.0 L1391.2,1258.0 L1399.9,1260.2 L1411.0,1264.6 L1420.7,1269.9 L1441.0,1278.2 L1455.7,1286.8 L1467.7,1291.6 L1476.3,1294.3 L1484.2,1295.6 L1488.0,1296.7 L1503.8,1302.9 L1542.4,1316.9 L1567.5,1326.8 L1588.3,1334.0 L1629.5,1346.3 L1674.1,1357.4 L1694.7,1361.3 L1737.3,1367.4 L1795.0,1373.0 L1802.0,1372.9 L1811.9,1371.4 L1816.9,1371.5 L1824.8,1372.5 L1845.5,1376.1 L1873.2,1379.7 L1887.2,1381.1 L1934.0,1384.7 L1953.0,1385.6 L1990.0,1385.3 L2012.0,1385.8 L2052.0,1387.3 L2095.9,1389.6"/>
<path stroke="#ff8000" stroke-width="9.5" d="M323.0,1401.0 L347.0,1400.4 L364.0,1399.3 L378.8,1397.1 L384.6,1395.7 L389.4,1394.2 L394.9,1391.8 L401.1,1388.6 L408.9,1384.0 L413.8,1380.6 L417.5,1377.3 L420.8,1373.6 L429.7,1361.5 L433.0,1355.3 L435.8,1347.8 L441.8,1328.8 L446.9,1310.4 L456.9,1264.5 L471.8,1193.1 L477.3,1169.7 L483.6,1145.5 L490.1,1123.4 L497.4,1101.6 L513.4,1059.6 L516.2,1053.2 L519.5,1047.0 L522.8,1042.0 L526.0,1038.1 L528.8,1035.4 L532.1,1033.1 L534.9,1032.0 L542.6,1030.2 L544.4,1029.3 L546.7,1027.5 L554.5,1018.4 L560.6,1008.1 L563.5,1004.1 L582.8,981.1 L587.7,976.1 L592.9,971.4 L597.0,968.5 L601.5,966.5 L612.2,964.2 L615.0,964.1 L617.5,965.4 L625.5,971.3 L635.3,976.3 L647.3,981.2 L649.2,981.7 L651.2,981.7 L653.1,981.3 L654.8,980.4 L657.8,977.9 L660.0,974.5 L662.7,968.2 L664.6,966.0 L666.2,965.0 L668.0,964.6 L669.9,964.8 L672.7,965.9 L676.0,968.1 L679.6,971.6 L683.2,976.3 L687.8,982.9 L690.8,988.1 L697.0,1000.6 L703.2,1014.3 L706.4,1019.3 L708.6,1021.3 L712.1,1023.2 L720.7,1025.8 L728.2,1028.6 L734.6,1031.4 L738.9,1033.8 L741.2,1035.7 L743.2,1037.9 L750.2,1047.7 L752.8,1050.7 L755.8,1053.3 L759.3,1054.9 L762.3,1055.2 L765.2,1054.7 L767.8,1053.4 L770.8,1050.9 L773.2,1047.6 L782.3,1033.3 L792.7,1018.6 L795.8,1013.5 L798.4,1008.1 L800.5,1002.5 L802.7,993.7 L805.2,982.0 L825.6,872.9 L829.8,847.2 L833.2,822.5 L835.7,797.6 L839.0,754.7 L841.7,714.8 L846.0,639.9 L848.8,604.1 L853.0,566.3 L862.8,493.9 L866.0,467.1 L869.1,433.3 L871.7,385.3 L873.2,366.4 L875.4,347.5 L878.8,327.8 L883.2,308.3 L884.3,305.6 L886.1,303.5 L887.7,302.8 L889.5,303.1 L892.1,304.4 L897.0,307.9 L899.6,309.3 L902.4,310.2 L905.3,310.2 L908.1,309.3 L910.6,307.7 L914.1,304.2 L917.9,299.5 L921.1,294.5 L923.2,290.0 L932.8,258.4 L941.1,237.0 L944.0,231.7 L946.5,228.6 L949.7,226.3 L952.4,225.5 L954.2,225.7 L955.8,226.7 L959.7,231.1 L963.8,238.0 L968.7,248.9 L976.0,258.4 L978.1,261.8 L980.9,268.2 L986.0,282.3 L993.0,300.0 L998.2,310.8 L1001.1,318.2 L1003.8,326.8 L1008.5,344.2 L1015.1,362.0 L1017.5,369.6 L1024.1,393.8 L1033.2,424.4 L1039.3,447.6 L1042.8,463.3 L1045.7,479.0 L1051.0,517.6 L1055.0,532.1 L1066.2,589.0 L1069.3,603.7 L1071.4,611.4 L1073.7,618.0 L1077.7,627.1 L1080.8,633.4 L1083.3,637.7 L1085.6,641.0 L1087.7,643.1 L1093.6,646.7 L1096.5,649.4 L1100.4,655.2 L1103.6,661.4 L1109.0,674.3 L1120.9,706.1 L1126.1,726.5 L1128.0,736.3 L1128.8,739.2 L1130.2,741.8 L1134.1,747.5 L1135.7,751.2 L1137.3,758.0 L1140.6,777.7 L1157.1,858.1 L1170.9,920.5 L1176.6,950.0 L1179.2,959.6 L1185.1,971.2 L1195.0,996.3 L1206.0,1020.9 L1209.5,1028.1 L1213.4,1035.1 L1219.4,1044.4 L1225.8,1052.0 L1228.0,1054.1 L1230.4,1055.8 L1239.5,1059.7 L1242.9,1061.8 L1245.5,1064.8 L1251.9,1073.8 L1257.2,1083.4 L1263.5,1098.1 L1268.0,1110.3 L1272.7,1126.6 L1273.8,1129.3 L1274.9,1131.0 L1278.4,1134.4 L1280.1,1136.8 L1291.9,1161.0 L1296.6,1169.9 L1300.2,1175.9 L1304.3,1181.6 L1311.1,1190.2 L1319.1,1199.1 L1322.0,1201.8 L1323.7,1202.9 L1325.4,1203.4 L1327.3,1203.3 L1329.0,1202.5 L1331.3,1200.7 L1335.1,1196.1 L1337.2,1194.1 L1339.9,1193.0 L1342.8,1192.8 L1347.6,1194.0 L1365.2,1201.1 L1369.5,1203.5 L1373.0,1207.1 L1374.8,1210.5 L1376.8,1217.3 L1378.3,1221.0 L1380.3,1224.3 L1382.5,1226.3 L1385.1,1227.4 L1390.0,1228.1 L1392.9,1228.8 L1399.3,1231.7 L1419.0,1243.5 L1434.0,1255.2 L1445.5,1261.1 L1460.3,1267.3 L1470.0,1269.7 L1475.5,1271.9 L1478.8,1274.2 L1485.4,1280.2 L1495.1,1287.2 L1504.4,1293.2 L1514.1,1298.4 L1535.1,1307.7 L1555.8,1315.1 L1562.6,1317.0 L1567.4,1318.0 L1581.4,1319.0 L1587.3,1320.1 L1592.0,1321.8 L1603.6,1327.5 L1609.2,1329.7 L1628.6,1334.5 L1649.7,1340.8 L1708.5,1352.5 L1732.8,1358.4 L1753.7,1360.5 L1774.5,1363.6 L1801.4,1365.8 L1815.2,1368.3 L1838.6,1373.3 L1851.5,1375.2 L1866.5,1376.3 L1911.4,1378.6 L1920.3,1379.7 L1941.0,1383.1 L1954.0,1384.3 L1996.0,1385.4 L2095.9,1388.7"/>
<path stroke="#960000" stroke-width="10" d="M323.0,1411.4 L354.0,1411.1 L368.0,1410.6 L380.0,1409.6 L388.8,1408.0 L394.6,1406.3 L399.2,1404.5 L403.7,1402.3 L408.0,1399.8 L411.2,1397.4 L414.1,1394.7 L416.8,1391.7 L419.8,1387.7 L422.8,1382.5 L426.2,1375.3 L432.2,1360.5 L440.4,1341.2 L447.9,1321.5 L452.5,1307.3 L456.2,1292.7 L461.0,1270.2 L473.7,1200.4 L478.7,1180.0 L483.4,1164.7 L486.9,1155.3 L490.9,1146.1 L494.9,1138.1 L498.9,1131.1 L502.8,1125.4 L506.0,1121.5 L509.7,1118.2 L514.0,1115.6 L530.1,1110.3 L536.9,1108.8 L539.9,1108.7 L542.9,1109.0 L545.7,1109.7 L548.5,1110.9 L568.1,1122.9 L582.3,1136.9 L595.6,1147.5 L599.7,1151.9 L623.9,1181.2 L629.0,1185.9 L635.5,1190.5 L638.2,1191.8 L640.9,1191.9 L647.5,1189.9 L653.8,1187.3 L655.8,1187.2 L657.7,1187.6 L661.0,1189.5 L666.1,1194.3 L669.6,1196.2 L671.5,1196.7 L674.4,1197.0 L680.2,1196.0 L682.0,1196.1 L687.5,1198.3 L694.1,1200.3 L698.8,1202.2 L702.2,1204.3 L705.3,1206.8 L715.3,1216.5 L717.9,1217.9 L721.7,1219.1 L728.5,1220.4 L732.5,1220.6 L735.5,1220.3 L742.2,1218.4 L745.8,1216.7 L749.3,1214.7 L755.5,1209.7 L761.0,1203.8 L770.2,1192.0 L774.8,1184.3 L777.2,1178.8 L779.1,1173.1 L786.7,1144.1 L792.7,1117.8 L799.6,1083.5 L804.7,1053.9 L809.5,1022.3 L814.0,987.6 L818.3,950.8 L823.7,894.1 L828.6,829.2 L845.5,553.7 L850.4,480.9 L855.5,414.1 L860.2,359.3 L864.5,316.5 L869.3,278.8 L875.1,242.3 L877.7,229.5 L879.9,220.8 L882.5,214.3 L885.4,210.4 L887.7,208.5 L889.5,207.7 L891.4,207.5 L894.1,208.3 L897.1,210.8 L904.7,220.0 L906.2,221.3 L907.8,222.2 L909.7,222.6 L912.6,222.3 L914.4,221.6 L917.0,220.1 L920.0,217.5 L922.7,214.6 L927.6,207.0 L934.9,191.7 L941.2,175.9 L945.0,168.9 L947.3,165.6 L949.4,163.6 L952.0,162.2 L953.9,161.8 L955.8,162.0 L957.6,162.7 L959.3,163.7 L961.6,165.6 L964.6,169.5 L967.7,175.8 L970.2,182.3 L978.2,206.0 L981.0,215.6 L986.0,236.0 L1004.9,328.1 L1006.0,336.0 L1009.2,365.8 L1015.1,398.3 L1021.5,443.8 L1023.2,453.7 L1029.2,480.0 L1033.9,505.6 L1036.0,515.4 L1038.0,522.1 L1043.1,532.9 L1045.2,539.6 L1048.2,556.3 L1058.0,603.3 L1062.0,626.0 L1068.8,658.2 L1076.9,685.1 L1085.4,710.7 L1090.4,723.8 L1097.2,739.3 L1098.5,748.1 L1099.6,752.0 L1120.6,803.9 L1128.1,825.6 L1131.3,837.2 L1137.4,861.4 L1145.8,903.6 L1149.6,919.1 L1152.8,934.8 L1158.5,958.1 L1163.4,971.2 L1175.2,1010.5 L1185.7,1040.7 L1200.2,1088.6 L1206.2,1105.5 L1208.9,1110.9 L1212.6,1116.8 L1218.1,1123.9 L1223.7,1132.2 L1227.4,1136.9 L1231.4,1141.4 L1242.7,1152.7 L1258.3,1172.2 L1295.9,1225.3 L1313.2,1246.0 L1316.9,1249.3 L1318.6,1250.2 L1320.4,1250.5 L1322.8,1249.4 L1326.4,1246.0 L1328.8,1244.3 L1330.6,1243.6 L1332.5,1243.5 L1335.4,1244.1 L1347.5,1248.7 L1360.0,1252.4 L1365.9,1253.0 L1373.9,1252.5 L1377.7,1253.2 L1381.1,1255.1 L1389.5,1263.8 L1393.6,1266.4 L1467.0,1295.6 L1477.5,1299.0 L1480.0,1300.4 L1484.5,1304.2 L1489.9,1306.9 L1525.9,1321.7 L1559.7,1334.1 L1576.9,1339.6 L1625.1,1353.0 L1651.8,1361.3 L1690.7,1370.6 L1727.9,1378.1 L1747.7,1381.4 L1775.4,1385.3 L1797.3,1387.1 L1815.3,1387.2 L1843.1,1390.9 L1857.0,1391.9 L1937.9,1395.9 L1958.9,1396.5 L2003.9,1397.1 L2095.9,1397.0"/>
<path stroke="#008a8a" stroke-width="10" d="M323.0,1400.8 L354.0,1400.3 L373.0,1399.4 L387.9,1397.8 L392.8,1396.9 L397.6,1395.6 L402.3,1393.9 L408.6,1390.8 L412.9,1388.2 L416.9,1385.2 L421.3,1381.1 L426.7,1375.2 L431.7,1369.1 L435.9,1363.4 L441.9,1353.0 L448.1,1339.4 L453.6,1324.4 L459.1,1306.2 L462.7,1291.6 L465.9,1276.9 L474.8,1227.7 L479.6,1203.2 L484.8,1181.8 L490.4,1163.7 L496.0,1148.7 L502.1,1134.9 L509.0,1121.6 L516.6,1109.9 L521.1,1098.8 L522.8,1096.4 L524.9,1094.3 L528.1,1091.9 L530.7,1090.4 L533.4,1089.3 L536.3,1088.6 L548.3,1088.1 L552.3,1087.6 L556.1,1086.4 L561.5,1083.9 L564.3,1083.0 L566.2,1082.9 L568.1,1083.3 L572.6,1085.5 L580.0,1090.5 L585.3,1095.1 L590.0,1100.2 L599.3,1112.0 L619.8,1132.5 L628.9,1143.2 L632.5,1146.6 L638.8,1151.6 L646.1,1158.4 L650.2,1161.1 L652.0,1161.7 L653.9,1161.8 L656.4,1160.6 L662.6,1155.6 L666.1,1153.7 L668.9,1153.2 L671.9,1153.3 L674.8,1153.9 L677.6,1155.0 L680.2,1156.5 L683.3,1159.0 L697.4,1173.1 L704.1,1179.1 L705.4,1181.6 L706.6,1188.3 L707.7,1189.7 L709.3,1190.6 L713.2,1191.1 L721.1,1190.6 L724.1,1190.7 L729.1,1191.4 L745.8,1194.5 L748.7,1194.7 L751.6,1194.2 L753.5,1193.5 L756.0,1191.9 L759.6,1188.5 L767.8,1178.4 L772.7,1170.9 L775.1,1165.4 L779.1,1154.1 L788.8,1121.5 L796.4,1093.5 L803.5,1063.3 L809.5,1033.9 L815.0,1003.4 L820.1,969.8 L824.4,936.0 L829.8,884.3 L834.8,822.5 L855.4,514.1 L863.6,398.4 L866.1,369.5 L868.7,344.6 L871.4,322.7 L874.1,306.0 L877.5,289.3 L881.2,273.8 L882.3,271.0 L883.3,269.3 L884.7,268.0 L886.3,267.2 L888.1,267.3 L889.8,268.0 L892.1,269.8 L894.1,272.1 L896.7,276.3 L903.0,288.8 L906.5,293.6 L908.9,295.0 L910.7,295.2 L912.5,294.6 L914.5,292.7 L916.7,288.2 L918.9,281.6 L928.9,239.8 L934.6,219.5 L940.0,202.4 L943.6,193.0 L947.2,185.9 L950.3,182.1 L951.9,181.0 L953.6,180.4 L955.4,180.7 L957.9,182.1 L960.0,184.2 L961.6,186.7 L963.4,190.3 L966.9,199.7 L969.7,206.1 L979.5,222.3 L989.8,242.9 L999.5,268.1 L1008.9,296.6 L1017.9,326.3 L1020.1,335.0 L1026.3,365.4 L1032.9,389.5 L1035.3,399.2 L1051.0,478.7 L1056.7,514.2 L1057.8,518.1 L1060.0,522.4 L1061.2,526.1 L1064.2,542.9 L1071.9,582.1 L1075.3,596.7 L1077.9,605.3 L1082.0,615.5 L1084.8,620.8 L1086.5,623.3 L1087.9,624.6 L1089.5,625.6 L1095.2,627.0 L1097.8,628.4 L1106.8,636.4 L1110.5,641.0 L1113.3,646.3 L1116.9,654.6 L1124.6,677.3 L1128.0,689.9 L1132.8,711.3 L1136.9,737.0 L1141.0,754.5 L1161.5,857.5 L1175.5,920.0 L1181.0,949.5 L1183.3,958.2 L1185.0,961.8 L1188.9,967.6 L1190.8,971.1 L1199.2,992.5 L1202.8,1000.7 L1214.0,1023.1 L1220.0,1033.5 L1223.6,1038.3 L1227.8,1042.6 L1230.2,1044.2 L1235.7,1046.6 L1238.3,1048.1 L1242.2,1051.2 L1248.0,1056.6 L1253.1,1062.8 L1259.4,1073.0 L1263.2,1080.1 L1267.4,1090.2 L1274.4,1108.9 L1277.9,1121.5 L1279.8,1126.1 L1284.1,1134.0 L1296.6,1159.0 L1302.8,1170.5 L1309.1,1179.5 L1319.9,1192.6 L1324.9,1197.5 L1326.5,1198.6 L1328.2,1199.0 L1330.0,1198.7 L1331.5,1197.6 L1337.2,1192.2 L1338.8,1191.7 L1340.6,1192.0 L1355.0,1200.9 L1359.4,1203.1 L1366.8,1206.2 L1369.2,1207.9 L1371.1,1210.2 L1373.4,1214.6 L1375.7,1221.2 L1377.0,1223.9 L1379.4,1227.0 L1381.7,1228.8 L1384.4,1230.0 L1389.2,1231.1 L1391.9,1232.3 L1416.8,1247.3 L1425.5,1253.9 L1429.7,1256.6 L1440.6,1261.6 L1453.5,1269.3 L1467.3,1274.9 L1478.6,1281.4 L1485.0,1283.8 L1503.4,1295.9 L1518.5,1303.7 L1538.4,1313.1 L1550.5,1317.7 L1565.9,1322.1 L1586.5,1326.3 L1592.2,1328.2 L1609.8,1335.3 L1620.3,1338.6 L1634.8,1342.5 L1671.7,1351.6 L1732.5,1363.8 L1760.2,1367.8 L1799.0,1372.0 L1838.3,1379.2 L1859.1,1381.9 L1933.9,1388.0 L1948.9,1388.8 L2095.9,1388.7"/>
</g>
<text class="serif" font-size="69.5" x="732.5" y="62" text-anchor="middle" fill="#000">[Glucose](mM)</text>
<path d="M469.5 958V160" stroke="#000" stroke-width="17" stroke-linecap="round" fill="none"/>
<path d="M469.5 109 L486.5 167 H452.5 Z" fill="#000"/>
<g class="serif" font-size="70" text-anchor="middle">
<text x="599.6" y="148.0" fill="#008a8a">70</text>
<text x="600.2" y="220.0" fill="#900000">60</text>
<text x="605.5" y="286.5" fill="#ff8000">50</text>
<text x="601.0" y="355.5" fill="#858500">45</text>
<text x="601.0" y="425.0" fill="#000088">40</text>
<text x="606.0" y="504.5" fill="#ff00ff">30</text>
<text x="603.2" y="577.5" fill="#8000ff">20</text>
<text x="608.2" y="654.5" fill="#0000ff">10</text>
<text x="616.0" y="728.5" fill="#008200">5</text>
<text x="616.0" y="796.0" fill="#ff0000">2</text>
<text x="614.5" y="868.5" fill="#000000">1</text>
<text x="614.6" y="935.5" fill="#888888">0</text>
</g>
<g stroke="#000" stroke-width="4.5" fill="none">
<path d="M1342.5 186.5V731.9"/>
<path d="M1336.0 729.4H2079.5"/>
<path stroke-width="4.5" d="M1329.5 688.0H1342.5M1329.5 604.8H1342.5M1329.5 521.7H1342.5M1329.5 438.5H1342.5M1329.5 355.4H1342.5M1329.5 272.2H1342.5M1329.5 189.0H1342.5M1336 646.4H1342.5M1336 563.3H1342.5M1336 480.1H1342.5M1336 396.9H1342.5M1336 313.8H1342.5M1336 230.6H1342.5M1360.4 729.4V741.5M1450.0 729.4V741.5M1539.6 729.4V741.5M1629.2 729.4V741.5M1718.8 729.4V741.5M1808.4 729.4V741.5M1898.0 729.4V741.5M1987.6 729.4V741.5M2077.2 729.4V741.5M1405.2 729.4V736.5M1494.8 729.4V736.5M1584.4 729.4V736.5M1674.0 729.4V736.5M1763.6 729.4V736.5M1853.2 729.4V736.5M1942.8 729.4V736.5M2032.4 729.4V736.5"/>
</g>
<g class="sans" font-size="39.5" text-anchor="end" fill="#000">
<text x="1319.5" y="702.0">0</text>
<text x="1319.5" y="618.8">20</text>
<text x="1319.5" y="535.7">40</text>
<text x="1319.5" y="452.5">60</text>
<text x="1319.5" y="369.4">80</text>
<text x="1319.5" y="286.2">100</text>
<text x="1319.5" y="203.0">120</text>
</g>
<g class="sans" font-size="39.5" text-anchor="middle" fill="#000">
<text x="1359.9" y="782.5">0</text>
<text x="1449.5" y="782.5">10</text>
<text x="1539.1" y="782.5">20</text>
<text x="1628.7" y="782.5">30</text>
<text x="1718.3" y="782.5">40</text>
<text x="1807.9" y="782.5">50</text>
<text x="1897.5" y="782.5">60</text>
<text x="1987.1" y="782.5">70</text>
<text x="2076.7" y="782.5">80</text>
</g>
<text class="serif" font-size="49.3" text-anchor="middle" fill="#000" x="1709" y="841">Glucose Concentration (mM)</text>
<text class="serif" font-size="50" text-anchor="middle" fill="#000" transform="translate(1234 470) rotate(-90)">I - I<tspan font-size="30" dy="11">0</tspan><tspan dy="-11"> / I</tspan><tspan font-size="30" dy="11">0</tspan><tspan dy="-11"> (%)</tspan></text>
<path d="M1342.5 677.5L1852.3 242.1" stroke="#ff0000" stroke-width="6" fill="none"/>
<g stroke="#000" stroke-width="4" fill="#000">
<path d="M1369.4 645.2V682.6M1363.4 645.2H1375.4M1363.4 682.6H1375.4" fill="none"/>
<rect x="1364.4" y="658.9" width="10" height="10" stroke-width="3"/>
<path d="M1378.3 628.5V660.1M1372.3 628.5H1384.3M1372.3 660.1H1384.3" fill="none"/>
<rect x="1373.3" y="639.3" width="10" height="10" stroke-width="3"/>
<path d="M1405.2 599.4V632.7M1399.2 599.4H1411.2M1399.2 632.7H1411.2" fill="none"/>
<rect x="1400.2" y="611.1" width="10" height="10" stroke-width="3"/>
<path d="M1450.0 570.7V597.4M1444.0 570.7H1456.0M1444.0 597.4H1456.0" fill="none"/>
<rect x="1445.0" y="579.0" width="10" height="10" stroke-width="3"/>
<path d="M1539.6 484.3V509.2M1533.6 484.3H1545.6M1533.6 509.2H1545.6" fill="none"/>
<rect x="1534.6" y="491.7" width="10" height="10" stroke-width="3"/>
<path d="M1629.2 404.0V429.0M1623.2 404.0H1635.2M1623.2 429.0H1635.2" fill="none"/>
<rect x="1624.2" y="411.5" width="10" height="10" stroke-width="3"/>
<path d="M1718.8 358.3V387.4M1712.8 358.3H1724.8M1712.8 387.4H1724.8" fill="none"/>
<rect x="1713.8" y="367.8" width="10" height="10" stroke-width="3"/>
<path d="M1763.6 318.8V348.7M1757.6 318.8H1769.6M1757.6 348.7H1769.6" fill="none"/>
<rect x="1758.6" y="328.7" width="10" height="10" stroke-width="3"/>
<path d="M1808.4 242.7V275.9M1802.4 242.7H1814.4M1802.4 275.9H1814.4" fill="none"/>
<rect x="1803.4" y="254.3" width="10" height="10" stroke-width="3"/>
<path d="M1898.0 233.1V264.7M1892.0 233.1H1904.0M1892.0 264.7H1904.0" fill="none"/>
<rect x="1893.0" y="243.9" width="10" height="10" stroke-width="3"/>
<path d="M1987.6 236.9V270.1M1981.6 236.9H1993.6M1981.6 270.1H1993.6" fill="none"/>
<rect x="1982.6" y="248.5" width="10" height="10" stroke-width="3"/>
</g>
<path d="M1781 251.3H2037" stroke="#ff0000" stroke-width="8" fill="none"/>
<text class="serif" font-size="46" fill="#000" x="1589" y="592" xml:space="preserve"><tspan font-style="italic">y</tspan><tspan x="1637">=</tspan><tspan x="1680.5">1.840</tspan><tspan x="1802">x</tspan><tspan x="1850">+</tspan><tspan x="1893">6.455</tspan></text>
<text class="serif" font-size="46" fill="#000" x="1589" y="660" xml:space="preserve"><tspan font-style="italic">R</tspan><tspan font-size="27" dy="-21" dx="1">2</tspan><tspan x="1647" dy="21">=</tspan><tspan x="1690">0.995</tspan></text>

</g>
</svg></body></html>
